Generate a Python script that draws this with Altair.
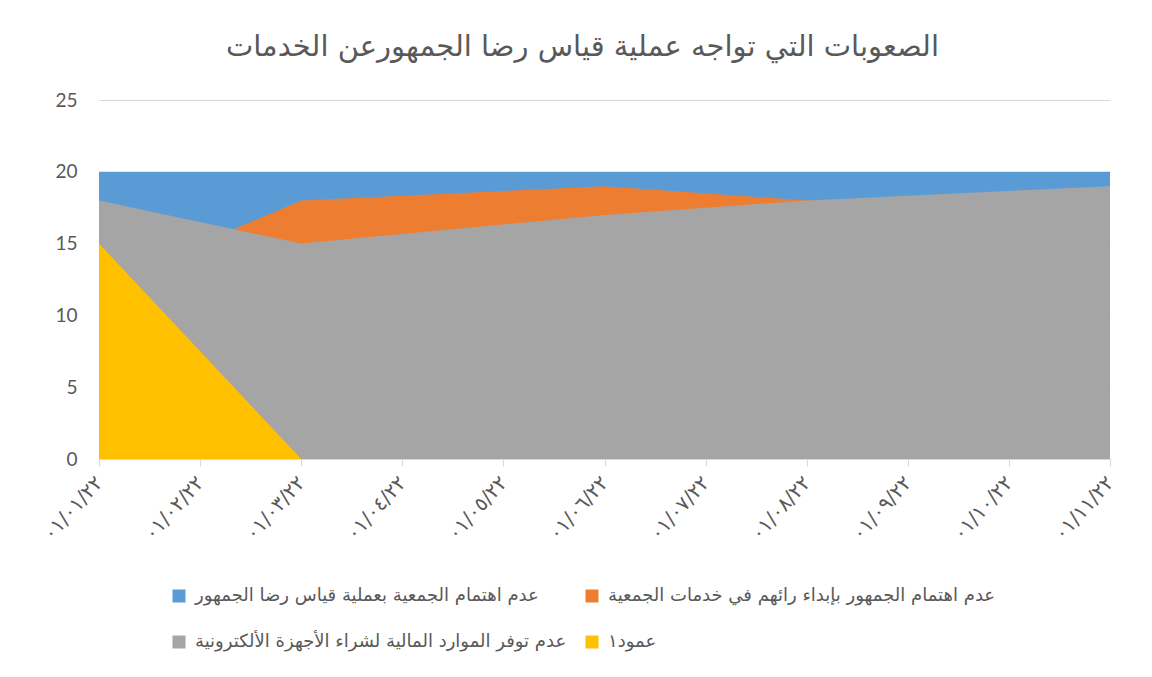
import altair as alt
import pandas as pd

# Tick labels (x axis, months)
months = ["٠١/٠١/٢٢", "٠١/٠٢/٢٢", "٠١/٠٣/٢٢", "٠١/٠٤/٢٢", "٠١/٠٥/٢٢", "٠١/٠٦/٢٢",
          "٠١/٠٧/٢٢", "٠١/٠٨/٢٢", "٠١/٠٩/٢٢", "٠١/١٠/٢٢", "٠١/١١/٢٢"]

# Series names
s_blue = "عدم اهتمام الجمعية بعملية قياس رضا الجمهور"
s_orange = "عدم اهتمام الجمهور بإبداء رائهم في خدمات الجمعية"
s_gray = "عدم توفر الموارد المالية لشراء الأجهزة الألكترونية"
s_yellow = "عمود١"
series = [s_blue, s_orange, s_gray, s_yellow]
colors = ["#5B9BD5", "#ED7D31", "#A5A5A5", "#FFC000"]

# Values (dates where each series has data)
blue_dates = ["٠١/٠١/٢٢", "٠١/٠٣/٢٢", "٠١/٠٦/٢٢", "٠١/٠٨/٢٢", "٠١/١١/٢٢"]
blue_vals = [20, 20, 20, 20, 20]
orange_dates = ["٠١/٠١/٢٢", "٠١/٠٣/٢٢", "٠١/٠٦/٢٢", "٠١/٠٨/٢٢", "٠١/١١/٢٢"]
orange_vals = [12, 18, 19, 18, 18]
gray_dates = ["٠١/٠١/٢٢", "٠١/٠٣/٢٢", "٠١/٠٦/٢٢", "٠١/٠٨/٢٢", "٠١/١١/٢٢"]
gray_vals = [18, 15, 17, 18, 19]
yellow_dates = ["٠١/٠١/٢٢", "٠١/٠٣/٢٢"]
yellow_vals = [15, 0]

title_text = "الصعوبات التي تواجه عملية قياس رضا الجمهورعن الخدمات"

color = alt.Color("series:N",
                  scale=alt.Scale(domain=series, range=colors),
                  legend=alt.Legend(title=None, orient="none", legendX=71, legendY=487,
                                    direction="horizontal",
                                    columns=2, symbolType="square", symbolSize=169,
                                    symbolStrokeWidth=0, labelFontSize=18, labelColor="#595959",
                                    labelFont="DejaVu Sans", labelLimit=600,
                                    rowPadding=28, columnPadding=16, labelOffset=7))

x = alt.X("month:O", scale=alt.Scale(domain=months, type="point", padding=0),
          axis=alt.Axis(title=None, labelAngle=-48, labelFontSize=20, labelColor="#595959",
                        labelFont="DejaVu Sans", labelPadding=13,
                        tickColor="#D9D9D9", tickSize=7, domainColor="#D9D9D9", grid=False))
y = alt.Y("value:Q", stack=None, scale=alt.Scale(domain=[0, 25], nice=False),
          axis=alt.Axis(title=None, values=[0, 5, 10, 15, 20, 25], labelFontSize=19,
                        labelColor="#595959", labelFont="Lato", labelPadding=22,
                        ticks=False, domain=False, gridColor="#D9D9D9", gridWidth=1))

layers = []
for name, ds, vs in [(s_blue, blue_dates, blue_vals), (s_orange, orange_dates, orange_vals),
                     (s_gray, gray_dates, gray_vals), (s_yellow, yellow_dates, yellow_vals)]:
    d = pd.DataFrame({"series": [name] * len(ds), "month": ds, "value": vs})
    layers.append(alt.Chart(d).mark_area(opacity=1).encode(x=x, y=y, color=color))

chart = alt.layer(*layers).properties(
    width=1011, height=359,
    title=alt.Title(title_text, fontSize=29, font="DejaVu Sans", fontWeight="normal",
                    color="#595959", offset=29, dx=-22),
    autosize=alt.AutoSizeParams(type="none"),
    padding={"left": 91, "top": 92, "right": 30, "bottom": 205},
).configure_view(stroke=None)

chart.save("out.html", embed_options={"renderer": "svg", "actions": False})
